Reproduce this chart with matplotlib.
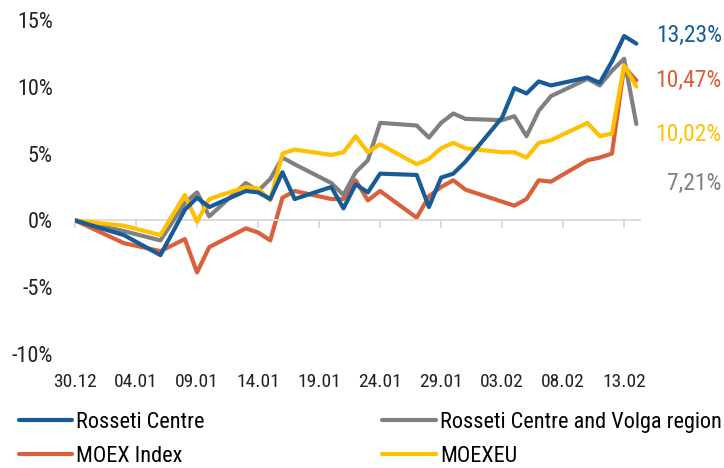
import matplotlib
matplotlib.use("Agg")
import matplotlib.pyplot as plt
from matplotlib import font_manager as fm
from matplotlib.ticker import FuncFormatter

# look for a narrow font like the DIN Condensed of the original
names = {f.name for f in fm.fontManager.ttflist}
stretches = {(f.name, f.stretch) for f in fm.fontManager.ttflist}
FONT = "Liberation Sans"
STRETCH = "normal"
for cand in ["Roboto Condensed", "Liberation Sans Narrow", "DejaVu Sans Condensed",
             "Open Sans Condensed", "Noto Sans Condensed"]:
    if cand in names:
        FONT = cand
        break
else:
    for n, s in stretches:
        if n in ("Roboto", "Noto Sans", "Open Sans", "DejaVu Sans") and s in ("condensed", 300, 75, "semi-condensed", 87):
            FONT, STRETCH = n, s
            break
plt.rcParams['font.family'] = [FONT, 'DejaVu Sans']
plt.rcParams['font.stretch'] = STRETCH

# trading days, counted from 30.12
days = [0, 4, 7, 9, 10, 11, 14, 15, 16, 17, 18, 21, 22, 23, 24, 25,
        28, 29, 30, 31, 32, 35, 36, 37, 38, 39, 42, 43, 44, 45, 46]

rosseti_centre = [0, -1.1, -2.6, 0.8, 1.7, 1.0, 2.2, 2.1, 1.6, 3.6, 1.6, 2.5, 0.9, 2.7, 2.1, 3.5,
                  3.4, 1.0, 3.2, 3.5, 4.4, 7.7, 9.9, 9.5, 10.4, 10.1, 10.7, 10.3, 11.9, 13.8, 13.23]
rosseti_volga = [0, -0.8, -1.5, 1.3, 2.1, 0.3, 2.8, 2.2, 3.1, 4.7, 4.2, 2.8, 1.9, 3.6, 4.5, 7.3,
                 7.1, 6.2, 7.3, 8.0, 7.6, 7.5, 7.8, 6.3, 8.2, 9.3, 10.6, 10.1, 11.2, 12.1, 7.21]
moex_index = [0, -1.7, -2.3, -1.4, -3.9, -2.0, -0.6, -0.9, -1.5, 1.7, 2.2, 1.6, 1.6, 3.0, 1.5, 2.2,
              0.2, 1.8, 2.5, 3.0, 2.3, 1.4, 1.1, 1.6, 3.0, 2.9, 4.5, 4.7, 5.0, 11.5, 10.47]
moexeu = [0, -0.4, -1.1, 1.9, -0.1, 1.6, 2.5, 2.4, 1.5, 5.0, 5.3, 4.9, 5.1, 6.3, 5.1, 5.7,
          4.2, 4.6, 5.4, 5.8, 5.4, 5.1, 5.1, 4.7, 5.8, 6.0, 7.3, 6.3, 6.5, 11.6, 10.02]

tick_days = [0, 5, 10, 15, 20, 25, 30, 35, 40, 45]
tick_labels = ["30.12", "04.01", "09.01", "14.01", "19.01", "24.01", "29.01", "03.02", "08.02", "13.02"]

BLUE = "#175c98"
GRAY = "#808080"
ORANGE = "#d9603b"
YELLOW = "#ffc000"

fig = plt.figure(figsize=(7.24, 4.68), dpi=100)
ax = fig.add_axes([0.1036, 0.2436, 0.7804, 0.7137])

lw = 3.0
ax.plot(days, rosseti_centre, color=BLUE, lw=lw, solid_joinstyle="round", solid_capstyle="round",
        label="Rosseti Centre", zorder=5)
ax.plot(days, moex_index, color=ORANGE, lw=lw, solid_joinstyle="round", solid_capstyle="round",
        label="MOEX Index", zorder=2)
ax.plot(days, rosseti_volga, color=GRAY, lw=lw, solid_joinstyle="round", solid_capstyle="round",
        label="Rosseti Centre and Volga region", zorder=3)
ax.plot(days, moexeu, color=YELLOW, lw=lw, solid_joinstyle="round", solid_capstyle="round",
        label="MOEXEU", zorder=4)

ax.set_xlim(0, 46.3)
ax.set_ylim(-10, 15)
ax.set_yticks([-10, -5, 0, 5, 10, 15])
ax.yaxis.set_major_formatter(FuncFormatter(lambda v, p: f"{v:.0f}%"))
ax.tick_params(axis="y", length=0, pad=16, labelsize=16, labelcolor="#222222")

for s in ["top", "right", "left"]:
    ax.spines[s].set_visible(False)

# axis line at zero with tick marks, labels at the bottom
ax.spines["bottom"].set_position(("data", 0))
ax.spines["bottom"].set_color("#d9d9d9")
ax.spines["bottom"].set_linewidth(1.3)
ax.set_xticks(tick_days)
ax.tick_params(axis="x", direction="out", length=6, width=1.3, color="#d9d9d9", labelbottom=False)

sec = ax.secondary_xaxis(0.0)
sec.set_xticks(tick_days, tick_labels)
sec.tick_params(length=0, pad=14, labelsize=14, labelcolor="#222222")
sec.spines["bottom"].set_visible(False)

# final values at the right
finals = [("13,23%", BLUE, 0.925), ("10,47%", ORANGE, 0.827), ("10,02%", YELLOW, 0.712), ("7,21%", GRAY, 0.608)]
for txt, col, yy in finals:
    fig.text(0.997, yy, txt, color=col, fontsize=17, ha="right", va="center")

leg = ax.legend(loc="upper left", bbox_to_anchor=(0.026, 0.12), bbox_transform=fig.transFigure,
                ncol=2, frameon=False, fontsize=16, handlelength=2.4, handletextpad=0.18,
                columnspacing=8.0, labelspacing=0.6, borderpad=0, borderaxespad=0)
for line in leg.get_lines():
    line.set_linewidth(3)

fig.savefig("out.png", dpi=100)
